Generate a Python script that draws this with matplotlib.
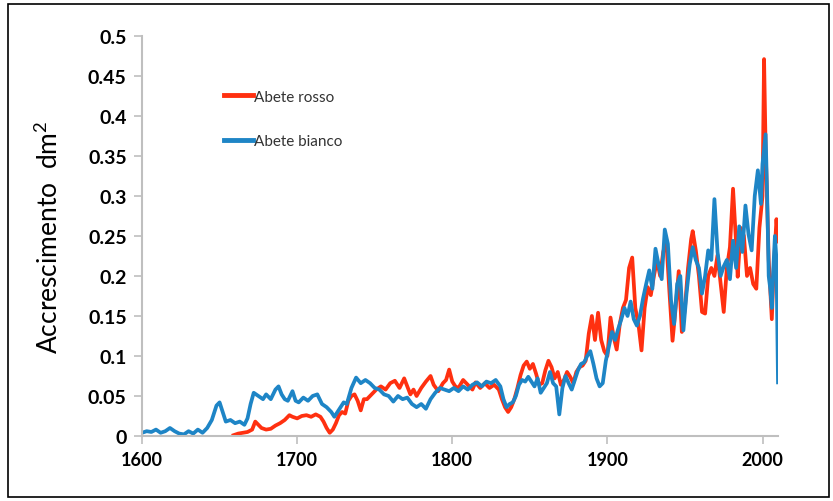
import matplotlib.pyplot as plt
from matplotlib.patches import Rectangle

# Abete bianco (blue)
bianco_years = [1600, 1603, 1606, 1609, 1612, 1615, 1618, 1621, 1624, 1627, 1630, 1633, 1636, 1639, 1642, 1645,
                1648, 1650, 1652, 1654, 1657, 1660, 1663, 1666, 1668, 1670, 1672, 1675, 1678, 1680, 1683, 1686,
                1688, 1690, 1692, 1694, 1697, 1699, 1701, 1704, 1707, 1710, 1713, 1716, 1719, 1722, 1724, 1726,
                1728, 1730, 1732, 1735, 1738, 1741, 1744, 1747, 1750, 1753, 1756, 1759, 1762, 1765, 1768, 1771,
                1774, 1777, 1780, 1783, 1786, 1789, 1792, 1795, 1798, 1801, 1804, 1807, 1810, 1813, 1816, 1819,
                1822, 1825, 1828, 1831, 1833, 1835, 1837, 1839, 1841, 1843, 1845, 1847, 1849, 1851, 1853, 1855,
                1857, 1859, 1861, 1863, 1865, 1867, 1869, 1871, 1873, 1875, 1877, 1879, 1881, 1883, 1885, 1887,
                1889, 1891, 1893, 1895, 1897, 1899, 1901, 1903, 1905, 1907, 1909, 1911, 1913, 1915, 1917, 1919,
                1921, 1923, 1925, 1927, 1929, 1931, 1933, 1935, 1937, 1939, 1941, 1943, 1945, 1947, 1949, 1951,
                1953, 1955, 1957, 1959, 1961, 1963, 1965, 1967, 1969, 1971, 1973, 1975, 1977, 1979, 1981, 1983,
                1985, 1987, 1989, 1991, 1993, 1995, 1997, 1999, 2000, 2002, 2003, 2004, 2005, 2006, 2007, 2008,
                2009, 2010]
bianco = [0.004, 0.006, 0.005, 0.008, 0.004, 0.006, 0.010, 0.006, 0.003, 0.002, 0.006, 0.003, 0.008, 0.004, 0.010, 0.020,
          0.038, 0.042, 0.030, 0.018, 0.020, 0.016, 0.018, 0.014, 0.022, 0.040, 0.054, 0.050, 0.046, 0.052, 0.046, 0.058,
          0.062, 0.052, 0.046, 0.044, 0.056, 0.044, 0.042, 0.048, 0.044, 0.050, 0.052, 0.040, 0.036, 0.030, 0.024, 0.030,
          0.036, 0.042, 0.040, 0.060, 0.073, 0.066, 0.070, 0.066, 0.060, 0.058, 0.052, 0.050, 0.043, 0.050, 0.046, 0.048,
          0.040, 0.036, 0.040, 0.034, 0.046, 0.054, 0.060, 0.058, 0.056, 0.060, 0.056, 0.062, 0.058, 0.064, 0.067, 0.062,
          0.068, 0.066, 0.070, 0.062, 0.046, 0.036, 0.040, 0.042, 0.050, 0.064, 0.070, 0.068, 0.074, 0.068, 0.062, 0.072,
          0.054, 0.060, 0.066, 0.080, 0.066, 0.062, 0.027, 0.060, 0.075, 0.066, 0.058, 0.070, 0.082, 0.090, 0.092, 0.100,
          0.106, 0.090, 0.072, 0.062, 0.066, 0.094, 0.112, 0.130, 0.120, 0.134, 0.146, 0.160, 0.150, 0.168, 0.146, 0.138,
          0.150, 0.172, 0.190, 0.207, 0.184, 0.234, 0.214, 0.196, 0.258, 0.240, 0.170, 0.140, 0.190, 0.200, 0.132, 0.178,
          0.214, 0.236, 0.220, 0.210, 0.178, 0.200, 0.232, 0.220, 0.296, 0.230, 0.200, 0.212, 0.220, 0.196, 0.244, 0.210,
          0.262, 0.230, 0.288, 0.252, 0.232, 0.300, 0.332, 0.290, 0.340, 0.377, 0.300, 0.200, 0.184, 0.160, 0.210, 0.250,
          0.220, 0.067]

# Abete rosso (red)
rosso_years = [1659, 1662, 1665, 1668, 1671, 1673, 1675, 1677, 1680, 1683, 1686, 1689, 1692, 1695, 1697, 1700,
               1703, 1706, 1709, 1712, 1715, 1717, 1719, 1721, 1723, 1725, 1727, 1729, 1731, 1733, 1735, 1737,
               1739, 1741, 1743, 1745, 1747, 1749, 1751, 1754, 1757, 1760, 1763, 1766, 1769, 1771, 1773, 1775,
               1777, 1780, 1783, 1786, 1788, 1791, 1794, 1796, 1798, 1800, 1802, 1804, 1807, 1810, 1813, 1815,
               1818, 1821, 1824, 1827, 1830, 1832, 1834, 1836, 1838, 1840, 1842, 1844, 1846, 1848, 1850, 1852,
               1854, 1856, 1858, 1860, 1862, 1864, 1866, 1868, 1870, 1872, 1874, 1876, 1878, 1880, 1882, 1884,
               1886, 1888, 1890, 1892, 1894, 1896, 1898, 1900, 1902, 1904, 1906, 1908, 1910, 1912, 1914, 1916,
               1918, 1920, 1922, 1924, 1926, 1928, 1930, 1932, 1934, 1936, 1938, 1940, 1942, 1944, 1946, 1948,
               1950, 1952, 1954, 1955, 1957, 1959, 1961, 1963, 1965, 1967, 1969, 1971, 1973, 1975, 1977, 1979,
               1981, 1983, 1984, 1986, 1988, 1990, 1992, 1994, 1996, 1998, 2000, 2001, 2002, 2003, 2004, 2006,
               2007, 2009, 2010]
rosso = [0.001, 0.003, 0.004, 0.005, 0.008, 0.018, 0.014, 0.010, 0.008, 0.009, 0.013, 0.016, 0.020, 0.026, 0.024, 0.022,
         0.025, 0.026, 0.024, 0.027, 0.024, 0.018, 0.010, 0.004, 0.008, 0.016, 0.026, 0.030, 0.028, 0.044, 0.050, 0.052,
         0.044, 0.032, 0.046, 0.046, 0.050, 0.054, 0.058, 0.062, 0.058, 0.066, 0.069, 0.060, 0.072, 0.062, 0.052, 0.058,
         0.050, 0.060, 0.068, 0.075, 0.064, 0.056, 0.066, 0.070, 0.083, 0.068, 0.062, 0.060, 0.070, 0.064, 0.058, 0.067,
         0.060, 0.066, 0.060, 0.064, 0.058, 0.046, 0.036, 0.030, 0.036, 0.046, 0.060, 0.076, 0.088, 0.093, 0.084, 0.090,
         0.078, 0.064, 0.066, 0.082, 0.094, 0.086, 0.072, 0.080, 0.064, 0.070, 0.080, 0.074, 0.066, 0.080, 0.086, 0.088,
         0.094, 0.128, 0.150, 0.120, 0.154, 0.120, 0.106, 0.100, 0.148, 0.124, 0.108, 0.140, 0.160, 0.170, 0.210, 0.223,
         0.160, 0.140, 0.107, 0.160, 0.186, 0.176, 0.200, 0.220, 0.200, 0.230, 0.244, 0.180, 0.119, 0.160, 0.206, 0.130,
         0.160, 0.210, 0.246, 0.256, 0.232, 0.200, 0.155, 0.153, 0.200, 0.210, 0.200, 0.226, 0.190, 0.155, 0.210, 0.236,
         0.309, 0.240, 0.199, 0.260, 0.250, 0.200, 0.210, 0.190, 0.184, 0.260, 0.300, 0.471, 0.360, 0.290, 0.220, 0.146,
         0.200, 0.271, 0.243]

yticks = [0, 0.05, 0.1, 0.15, 0.2, 0.25, 0.3, 0.35, 0.4, 0.45, 0.5]
ytick_labels = ["0", "0.05", "0.1", "0.15", "0.2", "0.25", "0.3", "0.35", "0.4", "0.45", "0.5"]
xticks = [1600, 1700, 1800, 1900, 2000]

fig = plt.figure(figsize=(8.33, 5.02), dpi=100)
ax = fig.add_axes([0.1705, 0.1295, 0.7635, 0.797])

ax.plot(rosso_years, rosso, color="#FF3010", lw=2.7, label="Abete rosso", solid_joinstyle="round")
ax.plot(bianco_years, bianco, color="#1E85C6", lw=2.7, label="Abete bianco", solid_joinstyle="round")

ax.set_xlim(1600, 2010)
ax.set_ylim(0, 0.5)
ax.set_xticks(xticks)
ax.set_xticklabels([str(x) for x in xticks], fontweight="bold", fontsize=13, family="Lato")
ax.set_yticks(yticks)
ax.set_yticklabels(ytick_labels, fontweight="bold", fontsize=14, family="Lato")

for s in ["top", "right"]:
    ax.spines[s].set_visible(False)
for s in ["left", "bottom"]:
    ax.spines[s].set_color("#BFBFBF")
    ax.spines[s].set_linewidth(1.5)
ax.tick_params(axis="both", color="#BFBFBF", width=1.2, length=6, direction="out", pad=5)

ax.set_ylabel("Accrescimento  dm$^{\\mathregular{2}}$", fontsize=19, family="Lato", labelpad=18)

leg = ax.legend(loc="upper left", bbox_to_anchor=(0.107, 0.9), frameon=False,
                handlelength=1.9, handletextpad=0.1, labelspacing=2.0, prop={"family": "Lato", "size": 11})
for t in leg.get_texts():
    t.set_color("#333333")
for h in leg.get_lines():
    h.set_linewidth(3.5)

fig.patches.append(Rectangle((0.01, 0.008), 0.985, 0.982, transform=fig.transFigure,
                             fill=False, edgecolor="black", lw=1.2))

fig.savefig("out.png", dpi=100)
